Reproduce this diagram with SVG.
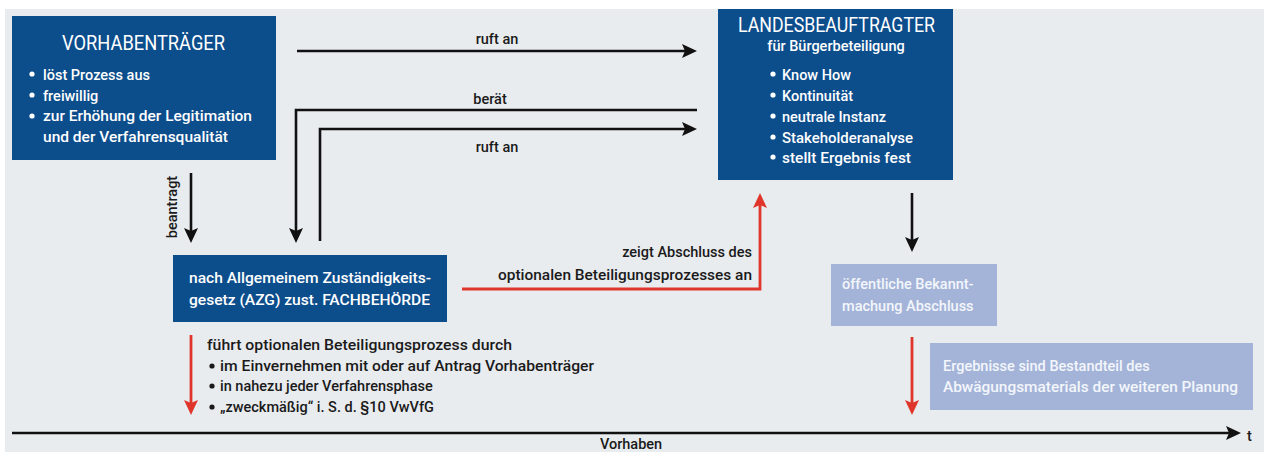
<svg xmlns="http://www.w3.org/2000/svg" width="1264" height="452" viewBox="0 0 1264 452">
<defs>
<style>
.bg{fill:#e9ecef}
.dark{fill:#0c4d8c}
.light{fill:#a4b4d8}
.t{font-family:Roboto,"Liberation Sans",sans-serif;font-weight:500;font-size:14.5px}
.w{fill:#ffffff}
.lw{fill:#f3f6fb}
.k{fill:#1a1a1a}
.title{font-family:Roboto,"Liberation Sans",sans-serif;font-weight:400;font-size:20px;fill:#ffffff}
.blk{stroke:#111;stroke-width:2.6;fill:none}
.red{stroke:#e0352b;stroke-width:2.8;fill:none}
</style>
<marker id="ak" markerUnits="userSpaceOnUse" markerWidth="16" markerHeight="14" viewBox="0 0 16 14" refX="11" refY="7" orient="auto">
<path d="M0,0 L15,7 L0,14 L3,7 z" fill="#111"/>
</marker>
<marker id="ar" markerUnits="userSpaceOnUse" markerWidth="16" markerHeight="14" viewBox="0 0 16 14" refX="11" refY="7" orient="auto">
<path d="M0,0 L15,7 L0,14 L3,7 z" fill="#e0352b"/>
</marker>
</defs>
<rect x="0" y="0" width="1264" height="452" fill="#ffffff"/>
<rect class="bg" x="5" y="9" width="1259" height="443"/>

<g id="connectors">
<path class="blk" d="M297,51 H693" marker-end="url(#ak)"/>
<path class="blk" d="M697,110 H296 V239" marker-end="url(#ak)"/>
<path class="blk" d="M320,241 V129 H693" marker-end="url(#ak)"/>
<path class="blk" d="M191,173 V239" marker-end="url(#ak)"/>
<path class="blk" d="M912,193 V248" marker-end="url(#ak)"/>
<path class="red" d="M462,289 H760 V197" marker-end="url(#ar)"/>
<path class="red" d="M191,335 V411" marker-end="url(#ar)"/>
<path class="red" d="M912,337 V411" marker-end="url(#ar)"/>
<path class="blk" d="M12,433 H1237" stroke-width="3" marker-end="url(#ak)"/>
<text class="t k" x="497" y="44" text-anchor="middle">ruft an</text>
<text class="t k" x="490" y="104" text-anchor="middle">berät</text>
<text class="t k" x="497" y="152" text-anchor="middle">ruft an</text>
<text class="t k" transform="translate(177,207) rotate(-90)" x="0" y="0" text-anchor="middle">beantragt</text>
<text class="t k" x="752" y="257" text-anchor="end">zeigt Abschluss des</text>
<text class="t k" x="498" y="280" textLength="254" lengthAdjust="spacingAndGlyphs">optionalen Beteiligungsprozesses an</text>
<text class="t k" x="207" y="350" textLength="305" lengthAdjust="spacingAndGlyphs">führt optionalen Beteiligungsprozess durch</text>
<circle cx="212" cy="366" r="2.6" fill="#1a1a1a"/>
<text class="t k" x="220" y="371" textLength="374" lengthAdjust="spacingAndGlyphs">im Einvernehmen mit oder auf Antrag Vorhabenträger</text>
<circle cx="212" cy="386" r="2.6" fill="#1a1a1a"/>
<text class="t k" x="220" y="391">in nahezu jeder Verfahrensphase</text>
<circle cx="212" cy="407" r="2.6" fill="#1a1a1a"/>
<text class="t k" x="220" y="412">„zweckmäßig“ i. S. d. §10 VwVfG</text>
<text class="t k" x="1247" y="441">t</text>
<text class="t k" x="631" y="449" font-size="14" text-anchor="middle">Vorhaben</text>
</g>

<g id="vorhabentraeger">
<rect class="dark" x="12" y="16" width="264" height="144"/>
<text class="title" x="62" y="50" textLength="163" lengthAdjust="spacingAndGlyphs">VORHABENTRÄGER</text>
<circle cx="32" cy="74" r="2.6" fill="#fff"/>
<text class="t w" x="43" y="80">löst Prozess aus</text>
<circle cx="32" cy="95" r="2.6" fill="#fff"/>
<text class="t w" x="43" y="101">freiwillig</text>
<circle cx="32" cy="116" r="2.6" fill="#fff"/>
<text class="t w" x="43" y="121" textLength="209" lengthAdjust="spacingAndGlyphs">zur Erhöhung der Legitimation</text>
<text class="t w" x="43" y="142" textLength="185" lengthAdjust="spacingAndGlyphs">und der Verfahrensqualität</text>
</g>

<g id="landesbeauftragter">
<rect class="dark" x="718" y="9" width="235" height="171"/>
<text class="title" x="738" y="32" font-size="19.5" textLength="197" lengthAdjust="spacingAndGlyphs">LANDESBEAUFTRAGTER</text>
<text class="t w" x="836" y="51" font-size="13" text-anchor="middle">für Bürgerbeteiligung</text>
<circle cx="773" cy="74" r="2.6" fill="#fff"/>
<text class="t w" x="782" y="80">Know How</text>
<circle cx="773" cy="95" r="2.6" fill="#fff"/>
<text class="t w" x="782" y="101">Kontinuität</text>
<circle cx="773" cy="116" r="2.6" fill="#fff"/>
<text class="t w" x="782" y="122">neutrale Instanz</text>
<circle cx="773" cy="137" r="2.6" fill="#fff"/>
<text class="t w" x="782" y="143" textLength="131" lengthAdjust="spacingAndGlyphs">Stakeholderanalyse</text>
<circle cx="773" cy="157" r="2.6" fill="#fff"/>
<text class="t w" x="782" y="163" textLength="129" lengthAdjust="spacingAndGlyphs">stellt Ergebnis fest</text>
</g>

<g id="fachbehoerde">
<rect class="dark" x="173" y="255" width="274" height="67"/>
<text class="t w" x="189" y="283" textLength="242" lengthAdjust="spacingAndGlyphs">nach Allgemeinem Zuständigkeits-</text>
<text class="t w" x="189" y="305" textLength="241" lengthAdjust="spacingAndGlyphs">gesetz (AZG) zust. FACHBEHÖRDE</text>
</g>

<g id="bekanntmachung">
<rect class="light" x="831" y="264" width="166" height="62"/>
<text class="t lw" x="842" y="289">öffentliche Bekannt-</text>
<text class="t lw" x="842" y="311">machung Abschluss</text>
</g>

<g id="ergebnisse">
<rect class="light" x="930" y="343" width="323" height="67"/>
<text class="t lw" x="943" y="371">Ergebnisse sind Bestandteil des</text>
<text class="t lw" x="943" y="392" textLength="295" lengthAdjust="spacingAndGlyphs">Abwägungsmaterials der weiteren Planung</text>
</g>
</svg>
